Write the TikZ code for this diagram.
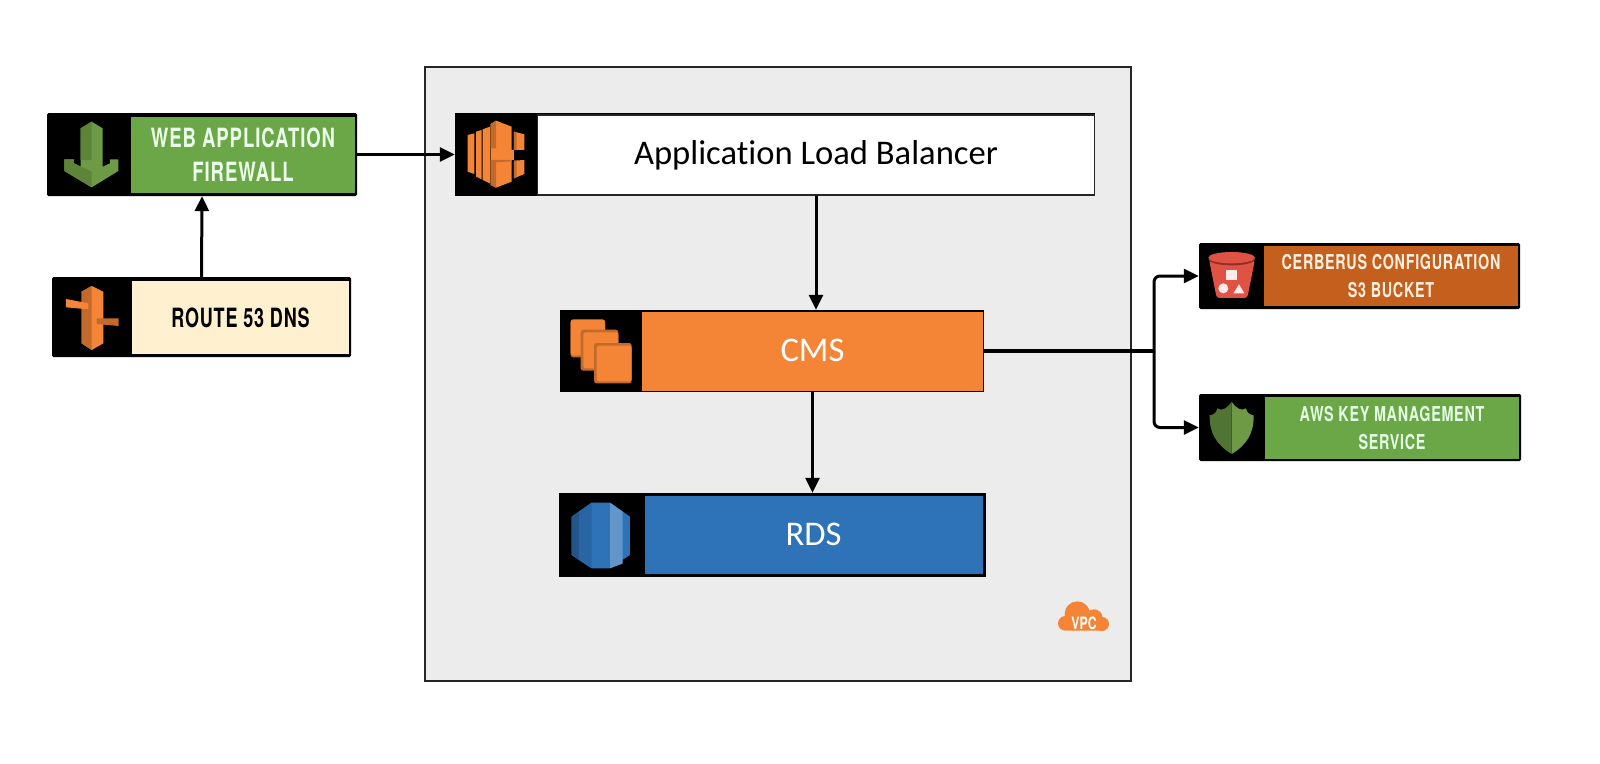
\documentclass[tikz,border=0pt]{standalone}
\usepackage{fontspec}
\usetikzlibrary{arrows.meta}
\setmainfont[Ligatures=CommonOff]{Carlito}
\newfontfamily\badgefont[FakeStretch=0.70,LetterSpace=3.5]{TeX Gyre Heros}
\newfontfamily\routefont[FakeStretch=0.68,LetterSpace=3]{TeX Gyre Heros}
\newfontfamily\cloudfont[FakeStretch=0.72]{TeX Gyre Heros}
\definecolor{wafgreen}{HTML}{6BA647}
\definecolor{creamfill}{HTML}{FFF1CF}
\definecolor{awsorange}{HTML}{F58536}
\definecolor{awsdark}{HTML}{C26A2C}
\definecolor{awsblue}{HTML}{2E73B8}
\definecolor{s3fill}{HTML}{C55F1E}
\definecolor{vpcgrey}{HTML}{ECECEC}
\definecolor{leaf}{HTML}{4F7433}
\definecolor{leaflight}{HTML}{6F9A45}
\definecolor{leafmid}{HTML}{5E8439}
\definecolor{bucket}{HTML}{E05243}
\definecolor{bucketdark}{HTML}{8C3123}
\tikzset{
  outerbox/.style={fill=black,inner sep=0pt,rounded corners=1.5pt},
  bodybox/.style={inner sep=0pt,align=center},
  flow/.style={draw=black,line width=3pt,-{Triangle[length=15pt,width=14pt]}},
  flowplain/.style={draw=black,line width=3.5pt},
  badgeL/.style={font=\badgefont\bfseries\fontsize{26.5}{34}\selectfont},
  routeL/.style={font=\routefont\bfseries\fontsize{26.5}{34}\selectfont},
  badgeS/.style={font=\badgefont\bfseries\fontsize{20.5}{27.5}\selectfont},
  titletext/.style={font=\fontsize{34.6}{38}\selectfont},
}
\begin{document}
\begin{tikzpicture}[x=1pt,y=-1pt]
\useasboundingbox[fill=white] (0,0) rectangle (1600,763);
% VPC
\node[draw=black!85,line width=1.2pt,fill=vpcgrey,minimum width=706pt,minimum height=614pt,inner sep=0pt] (vpc) at (778,374) {};
% Boxes
\node[outerbox,minimum width=310pt,minimum height=83pt] (waf) at (202,154.5) {};
\node[bodybox,fill=wafgreen,minimum width=224pt,minimum height=76pt,text=white!92!green,badgeL] (wafbody) at (243,155) {WEB APPLICATION\\FIREWALL};
\node[outerbox,minimum width=299pt,minimum height=80pt] (route) at (201.5,317) {};
\node[bodybox,fill=creamfill,minimum width=217pt,minimum height=73pt,text=black,routeL] (routebody) at (240.5,317.5) {ROUTE 53 DNS};
\node[fill=black,inner sep=0pt,minimum width=640pt,minimum height=83pt] (alb) at (775,154.5) {};
\node[bodybox,fill=white,draw=black!85,line width=1.2pt,minimum width=557pt,minimum height=80pt,titletext] (albbody) at (816,155) {Application Load Balancer};
\node[fill=black,inner sep=0pt,minimum width=424pt,minimum height=82pt] (cms) at (771.5,351) {};
\node[bodybox,fill=awsorange,minimum width=341pt,minimum height=79pt,text=white,titletext] (cmsbody) at (812.5,351) {\raisebox{1pt}{CMS}};
\node[fill=black,inner sep=0pt,minimum width=427pt,minimum height=84pt] (rds) at (772,535) {};
\node[bodybox,fill=awsblue,minimum width=338pt,minimum height=78pt,text=white,titletext] (rdsbody) at (813.5,535) {\raisebox{2pt}{RDS}};
\node[outerbox,minimum width=321pt,minimum height=66pt] (s3) at (1359.5,276) {};
\node[bodybox,fill=s3fill,minimum width=254pt,minimum height=60pt,text=white!88!orange,badgeS] (s3body) at (1391,276) {CERBERUS CONFIGURATION\\S3 BUCKET};
\node[outerbox,minimum width=322pt,minimum height=67pt] (kms) at (1360,427.5) {};
\node[bodybox,fill=wafgreen,minimum width=254pt,minimum height=62pt,text=white!90!green,badgeS] (kmsbody) at (1392,428) {AWS KEY MANAGEMENT\\SERVICE};
% Connectors
\draw[flow] (waf.east) -- (alb.west);
\draw[flow] (route.north) -- (waf.south);
\draw[flow] (albbody.south) -- (albbody.south |- cms.north);
\draw[flow] (cmsbody.south) -- (cmsbody.south |- rds.north);
\coordinate (junction) at (1154,351);
\draw[flowplain] (cmsbody.east) -- (junction);
\draw[flow,rounded corners=6pt] (junction) |- (s3.west);
\draw[flow,rounded corners=6pt] (junction) |- (kms.west);
% WAF icon
\begin{scope}[shift={(30,100)},x=.3333pt,y=-.3333pt]
\fill[leaflight] (103,178)--(132,178)--(132,190)--(152,200)--(152,85)--(185,65)--(218,85)--(218,200)--(240,190)--(240,178)--(265,178)--(265,213)--(185,262)--(103,213)--cycle;
\fill[leafmid] (152,85)--(185,65)--(185,180)--(152,180)--cycle;
\fill[leafmid] (103,178)--(132,178)--(132,190)--(185,215)--(185,262)--(103,213)--cycle;
\end{scope}
% Route 53 icon
\begin{scope}[shift={(30,100)},x=.3333pt,y=-.3333pt]
\fill[awsorange] (155,575)--(185,558)--(220,575)--(220,730)--(185,750)--(155,730)--cycle;
\fill[awsdark] (155,575)--(185,558)--(185,750)--(155,730)--cycle;
\fill[awsorange] (108,597)--(175,610)--(175,628)--(108,622)--cycle;
\fill[awsdark] (200,655)--(266,655)--(266,678)--(200,672)--cycle;
\end{scope}
% ALB icon
\begin{scope}[shift={(440,100)},x=.3333pt,y=-.3333pt]
\fill[awsorange] (83,105)--(103,100)--(103,222)--(83,215)--cycle;
\fill[awsorange] (108,95)--(125,90)--(125,238)--(108,230)--cycle;
\fill[awsorange] (128,88)--(150,80)--(150,250)--(128,240)--cycle;
\fill[awsorange] (152,72)--(168,62)--(215,80)--(215,150)--(222,150)--(222,180)--(215,180)--(215,245)--(168,263)--(152,255)--cycle;
\fill[awsdark] (152,72)--(168,62)--(168,145)--(152,145)--cycle;
\fill[awsdark] (152,185)--(168,180)--(168,263)--(152,255)--cycle;
\fill[awsdark] (152,180)--(215,180)--(215,184)--(152,188)--cycle;
\fill[awsorange] (222,95)--(253,103)--(253,150)--(222,150)--cycle;
\fill[awsorange] (222,182)--(253,180)--(253,222)--(222,235)--cycle;
\fill[awsdark] (222,95)--(230,97)--(230,150)--(222,150)--cycle;
\fill[awsdark] (222,182)--(230,182)--(230,232)--(222,235)--cycle;
\end{scope}
% CMS icon
\begin{scope}[shift={(540,300)},x=.3333pt,y=-.3333pt]
\fill[awsdark,rounded corners=2.5pt] (92,60) rectangle (195,172);
\fill[awsorange,rounded corners=2.5pt] (92,58) rectangle (195,166);
\fill[awsdark,rounded corners=2.5pt] (122,89) rectangle (235,212);
\fill[awsorange,rounded corners=2.5pt] (130,97) rectangle (235,205);
\fill[awsdark,rounded corners=2.5pt] (162,129) rectangle (275,250);
\fill[awsorange,rounded corners=2.5pt] (170,137) rectangle (275,244);
\end{scope}
% RDS icon
\begin{scope}[shift={(540,300)},x=.3333pt,y=-.3333pt]
\fill[awsblue] (95,650)--(155,608)--(210,608)--(270,650)--(270,765)--(210,805)--(155,805)--(95,765)--cycle;
\fill[awsblue!75!black] (95,650)--(118,634)--(118,781)--(95,765)--cycle;
\fill[awsblue!88!black] (118,634)--(155,608)--(155,805)--(118,781)--cycle;
\fill[awsblue!75!white] (210,608)--(248,635)--(248,791)--(210,805)--cycle;
\end{scope}
% S3 icon
\begin{scope}[shift={(1140,230)},x=.3333pt,y=-.3333pt]
\fill[bucket,rounded corners=3pt] (207,88)--(345,88)--(322,204)--(230,204)--cycle;
\fill[bucketdark] (275,88) ellipse [x radius=70,y radius=18];
\fill[bucket] (275,83) ellipse [x radius=70,y radius=17];
\fill[white!92!red] (258,120) rectangle (290,150);
\fill[white!92!red] (250,175) circle [radius=15];
\fill[white!92!red] (297,163)--(313,190)--(280,190)--cycle;
\end{scope}
% KMS icon
\begin{scope}[shift={(1140,230)},x=.3333pt,y=-.3333pt]
\fill[leaflight] (275,515) .. controls (288,535) and (305,545) .. (318,535) .. controls (320,548) and (330,555) .. (341,556) .. controls (342,610) and (320,645) .. (275,672) --cycle;
\fill[leaf] (275,515) .. controls (262,535) and (245,545) .. (232,535) .. controls (230,548) and (220,555) .. (209,556) .. controls (208,610) and (230,645) .. (275,672) --cycle;
\end{scope}
% VPC cloud
\begin{scope}[shift={(1040,590)},x=.3333pt,y=-.3333pt]
\fill[awsorange,rounded corners=3pt] (75,85) rectangle (188,122);
\fill[awsorange] (76,100) circle [radius=22];
\fill[awsorange] (112,72) circle [radius=38];
\fill[awsorange] (162,84) circle [radius=26];
\fill[awsorange] (186,102) circle [radius=21];
\end{scope}
\node[inner sep=0pt,text=white,font=\cloudfont\bfseries\fontsize{17}{18}\selectfont] (vpclabel) at (1084,623) {VPC};
\end{tikzpicture}
\end{document}
